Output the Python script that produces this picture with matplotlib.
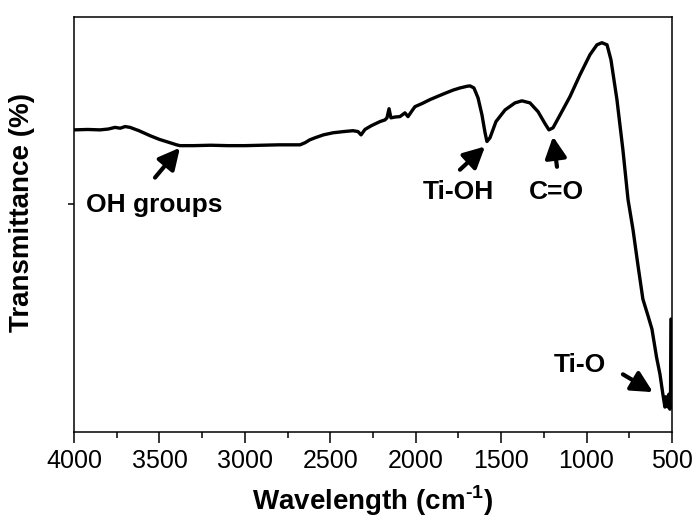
import matplotlib.pyplot as plt
import numpy as np

plt.rcParams['font.family'] = ['Liberation Sans', 'DejaVu Sans']
plt.rcParams['mathtext.fontset'] = 'custom'
plt.rcParams['mathtext.rm'] = 'Liberation Sans:bold'
plt.rcParams['mathtext.bf'] = 'Liberation Sans:bold'

# FTIR spectrum (wavenumber in cm-1, transmittance in %)
wavenumber = [4000, 3920, 3848, 3800, 3760, 3730, 3701, 3672, 3620, 3555, 3500,
              3438, 3400, 3380, 3300, 3200, 3100, 2999, 2900, 2800, 2677, 2648,
              2620, 2589, 2540, 2484, 2420, 2367, 2338, 2320, 2297, 2260, 2209,
              2180, 2168, 2156, 2145, 2120, 2092, 2063, 2045, 2020, 2004, 1960,
              1916, 1870, 1823, 1780, 1741, 1700, 1682, 1659, 1635, 1612, 1594,
              1583, 1565, 1530, 1477, 1419, 1378, 1331, 1284, 1243, 1220, 1196,
              1155, 1097, 1038, 980, 939, 910, 880, 857, 822, 787, 757, 728,
              700, 670, 640, 617, 590, 570, 553, 541, 535, 529, 523, 518, 512,
              508, 506, 500]
transmittance = [72.8, 72.9, 72.8, 73.0, 73.4, 73.2, 73.6, 73.4, 72.6, 71.4, 70.5,
                 69.7, 69.2, 69.0, 69.0, 69.1, 69.0, 69.0, 69.1, 69.2, 69.2, 69.7,
                 70.4, 70.9, 71.6, 72.1, 72.4, 72.6, 72.4, 71.6, 72.9, 73.8, 74.8,
                 75.2, 75.7, 77.9, 75.7, 75.9, 76.0, 76.9, 76.0, 77.5, 78.4, 79.2,
                 80.1, 80.9, 81.7, 82.4, 82.9, 83.3, 83.4, 82.9, 80.5, 76.4, 72.1,
                 70.0, 70.9, 74.8, 77.6, 79.3, 79.8, 79.3, 77.2, 74.3, 72.8, 73.3,
                 76.4, 80.8, 86.1, 90.9, 93.3, 93.8, 93.3, 89.7, 80.1, 68.0, 56.0,
                 48.8, 40.5, 32.0, 28.0, 24.8, 18.0, 13.9, 9.1, 6.0, 8.5, 7.9, 6.0,
                 9.1, 5.5, 10.0, 27.2, 27.2]

labels = ['OH groups', 'Ti-OH', 'C=O', 'Ti-O']
label_xy = [(3532, 52.9), (1752, 56.2), (1179, 56.2), (1038, 14.4)]
arrow_tail = [(3526, 61.3), (1741, 63.2), (1173, 63.9), (787, 13.9)]
arrow_head = [(3380, 68.5), (1594, 68.8), (1196, 71.2), (611, 9.6)]

fig = plt.figure(figsize=(6.92, 5.23), dpi=100)
ax = fig.add_axes([0.107, 0.174, 0.864, 0.7935])

ax.plot(wavenumber, transmittance, color='black', lw=2.4, solid_joinstyle='round')

for lab, (tx, ty), tail, head in zip(labels, label_xy, arrow_tail, arrow_head):
    ax.text(tx, ty, lab, fontsize=19, fontweight='bold', ha='center', va='baseline')
    ax.annotate('', xy=head, xytext=tail,
                arrowprops=dict(arrowstyle='-|>,head_length=0.75,head_width=0.38',
                                lw=3, color='black', shrinkA=0, shrinkB=0,
                                mutation_scale=17))

ax.set_xlim(4000, 500)
ax.set_ylim(0, 100)
ax.set_xticks(np.arange(4000, 499, -500))
ax.set_xticks(np.arange(3750, 500, -500), minor=True)
ax.set_yticks([55])
ax.set_yticklabels([])
ax.tick_params(axis='x', which='major', length=8, width=1.1, labelsize=18, pad=4)
ax.tick_params(axis='x', which='minor', length=4.5, width=1.1)
ax.tick_params(axis='y', length=4.5, width=1.1)
for s in ax.spines.values():
    s.set_linewidth(1.1)

ax.set_xlabel(r'Wavelength (cm$^{\text{-1}}$)', fontsize=20, fontweight='bold', labelpad=8)
ax.set_ylabel('Transmittance (%)', fontsize=20, fontweight='bold')
ax.yaxis.set_label_coords(-0.065, 0.53)

fig.savefig('out.png', dpi=100)
